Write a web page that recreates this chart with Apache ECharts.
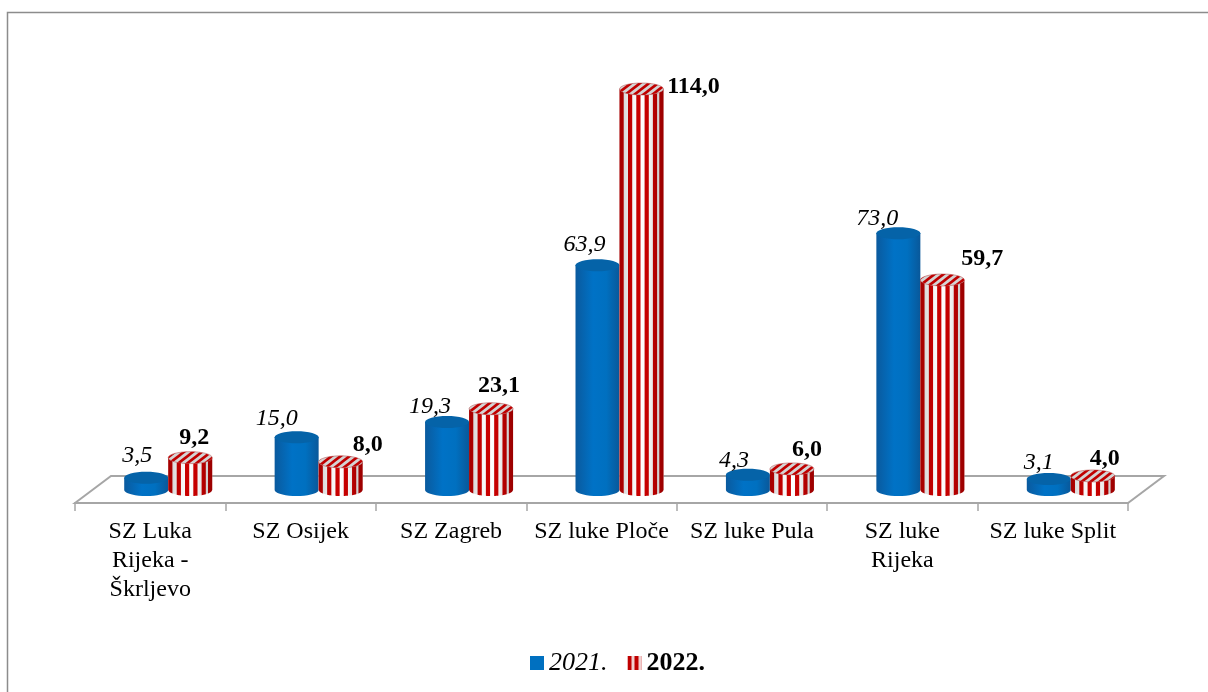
<!DOCTYPE html>
<html>
<head>
<meta charset="utf-8">
<style>
html, body { margin: 0; padding: 0; background: #fff; }
#main { width: 1208px; height: 692px; }
</style>
<script src="https://cdn.jsdelivr.net/npm/echarts@6/dist/echarts.min.js"></script>
</head>
<body>
<div id="main"></div>
<script>
var categories = ['SZ Luka\nRijeka -\nŠkrljevo', 'SZ Osijek', 'SZ Zagreb', 'SZ luke Ploče', 'SZ luke Pula', 'SZ luke\nRijeka', 'SZ luke Split'];
var values2021 = [3.5, 15.0, 19.3, 63.9, 4.3, 73.0, 3.1];
var values2022 = [9.2, 8.0, 23.1, 114.0, 6.0, 59.7, 4.0];

// hand placed labels in the original, offset from the top of each cylinder
var labelShift2021 = [[-9, -22], [-20, -19], [-17, -15], [-13, -21], [-14, -14], [-21, -15], [-10, -16]];
var labelShift2022 = [[4, -20], [27, -17], [8, -23], [52, -2], [15, -19], [40, -21], [12, -17]];

var FONT = '"Liberation Serif", "Times New Roman", serif';
var RX = 22, RY = 6, DEPTH_SHIFT = 18;
var STRIPE_X = [-22, -13.5, -5.2, 3.1, 11.4, 17.8];
var STRIPE_W = 4.2;

var myChart = echarts.init(document.getElementById('main'));

function stripeTile(w, h, diagonal) {
    var c = document.createElement('canvas');
    c.width = w;
    c.height = h;
    var ctx = c.getContext('2d');
    ctx.fillStyle = diagonal ? '#d4d4d4' : '#f0d0d0';
    ctx.fillRect(0, 0, w, h);
    ctx.fillStyle = ctx.strokeStyle = '#c00000';
    if (diagonal) {
        ctx.lineWidth = 2.6;
        ctx.beginPath();
        ctx.moveTo(-w, 2 * h); ctx.lineTo(2 * w, -h);
        ctx.moveTo(-w, h); ctx.lineTo(w, -h);
        ctx.moveTo(0, 2 * h); ctx.lineTo(2 * w, 0);
        ctx.stroke();
    } else {
        ctx.fillRect(0, 0, 4, h);
    }
    return c;
}
var topPattern = { image: stripeTile(9, 7, true), repeat: 'repeat' };
var legendPattern = { image: stripeTile(7, 7, false), repeat: 'repeat' };

function fmt(v) {
    return v.toFixed(1).replace('.', ',');
}

// outline of the side of a cylinder
function bodyPoints(cx, yTop, yBase) {
    var pts = [[cx - RX, yTop]];
    for (var a = -90; a <= 90; a += 10) {
        var r = a * Math.PI / 180;
        pts.push([cx + RX * Math.sin(r), yBase + RY * Math.cos(r)]);
    }
    pts.push([cx + RX, yTop]);
    return pts;
}

// one vertical stripe, following the curve of the rim at both ends
function stripePoints(cx, yTop, yBase, x1, x2) {
    var up = [], down = [];
    for (var x = x1; x <= x2 + 0.01; x += (x2 - x1) / 4) {
        var dy = RY * Math.sqrt(Math.max(0, 1 - x * x / (RX * RX)));
        up.push([cx + x, yTop + dy]);
        down.unshift([cx + x, yBase + dy]);
    }
    return up.concat(down);
}

function textEl(x, y, str, italic, bold, size) {
    return {
        type: 'text',
        style: {
            x: x, y: y, text: str, align: 'center', verticalAlign: 'middle',
            fill: '#000', font: (italic ? 'italic ' : '') + (bold ? 'bold ' : '') + size + 'px ' + FONT
        }
    };
}

function render2021(params, api) {
    var i = api.value(0), v = api.value(1);
    var top = api.coord([i, v]);
    var yBase = api.coord([i, 0])[1];
    var cx = top[0] + DEPTH_SHIFT - RX;
    var shift = labelShift2021[i];
    return {
        type: 'group',
        children: [
            {
                type: 'polygon',
                shape: { points: bodyPoints(cx, top[1], yBase) },
                style: {
                    fill: {
                        type: 'linear', x: 0, y: 0, x2: 1, y2: 0,
                        colorStops: [
                            { offset: 0, color: '#0a5a9e' },
                            { offset: 0.4, color: '#0072c6' },
                            { offset: 0.7, color: '#0070c0' },
                            { offset: 1, color: '#09589a' }
                        ]
                    }
                }
            },
            {
                type: 'ellipse',
                shape: { cx: cx, cy: top[1], rx: RX, ry: RY },
                style: { fill: '#0563a8' }
            },
            textEl(cx + shift[0], top[1] + shift[1], fmt(v), true, false, 24)
        ]
    };
}

function render2022(params, api) {
    var i = api.value(0), v = api.value(1);
    var top = api.coord([i, v]);
    var yBase = api.coord([i, 0])[1];
    var cx = top[0] + DEPTH_SHIFT + RX;
    var shift = labelShift2022[i];
    var children = [{
        type: 'polygon',
        shape: { points: bodyPoints(cx, top[1], yBase) },
        style: { fill: '#ffffff' }
    }];
    STRIPE_X.forEach(function (x) {
        children.push({
            type: 'polygon',
            shape: { points: stripePoints(cx, top[1], yBase, x, x + STRIPE_W) },
            style: { fill: '#cc0000' }
        });
    });
    children.push({
        type: 'polygon',
        shape: { points: bodyPoints(cx, top[1], yBase) },
        style: {
            fill: {
                type: 'linear', x: 0, y: 0, x2: 1, y2: 0,
                colorStops: [
                    { offset: 0, color: 'rgba(0,0,0,0.2)' },
                    { offset: 0.3, color: 'rgba(0,0,0,0.04)' },
                    { offset: 0.5, color: 'rgba(0,0,0,0)' },
                    { offset: 0.7, color: 'rgba(0,0,0,0.06)' },
                    { offset: 1, color: 'rgba(0,0,0,0.25)' }
                ]
            }
        }
    });
    children.push({
        type: 'ellipse',
        shape: { cx: cx, cy: top[1], rx: RX, ry: RY },
        style: { fill: topPattern, stroke: '#b04040', lineWidth: 0.5 }
    });
    children.push(textEl(cx + shift[0], top[1] + shift[1], fmt(v), false, true, 24));
    return { type: 'group', children: children };
}

// the floor of the 3D plot, hung off the grid rectangle
function renderFloor(params, api) {
    var cs = params.coordSys;
    var yFront = cs.y + cs.height + 13;
    var yBack = yFront - 27;
    return {
        type: 'polygon',
        shape: {
            points: [
                [cs.x, yFront], [cs.x + 36, yBack],
                [cs.x + cs.width + 36, yBack], [cs.x + cs.width, yFront]
            ]
        },
        style: { fill: 'none', stroke: '#a6a6a6', lineWidth: 2 }
    };
}

var option = {
    animation: false,
    backgroundColor: '#fff',
    textStyle: { fontFamily: FONT },
    graphic: [{
        type: 'rect',
        silent: true,
        shape: { x: 7.5, y: 12.5, width: 1400, height: 900 },
        style: { fill: 'none', stroke: '#8c8c8c', lineWidth: 1.5 }
    }],
    legend: {
        left: 525,
        top: 645,
        itemWidth: 14,
        itemHeight: 14,
        itemGap: 20,
        selectedMode: false,
        data: [
            {
                name: '2021.',
                icon: 'rect',
                itemStyle: { color: '#0070c0' },
                textStyle: { fontFamily: FONT, fontSize: 26, fontStyle: 'italic', color: '#000' }
            },
            {
                name: '2022.',
                icon: 'rect',
                itemStyle: { color: legendPattern },
                textStyle: { fontFamily: FONT, fontSize: 26, fontWeight: 'bold', color: '#000' }
            }
        ]
    },
    grid: { left: 75, right: 80, top: 89, height: 401 },
    xAxis: {
        type: 'category',
        data: categories,
        offset: 13,
        axisLine: { show: true, onZero: false, lineStyle: { color: '#a6a6a6', width: 2 } },
        axisTick: { show: true, alignWithLabel: false, length: 8, lineStyle: { color: '#a6a6a6', width: 1.5 } },
        axisLabel: {
            interval: 0,
            margin: 14,
            fontFamily: FONT,
            fontSize: 24,
            lineHeight: 29,
            color: '#000'
        }
    },
    yAxis: { type: 'value', min: 0, max: 114, show: false },
    series: [
        { name: 'floor', type: 'custom', renderItem: renderFloor, data: [[0, 0]], silent: true, z: 1 },
        { name: '2021.', type: 'custom', renderItem: render2021, encode: { x: 0, y: 1 }, itemStyle: { color: '#0070c0' }, z: 2,
          data: values2021.map(function (v, i) { return [i, v]; }) },
        { name: '2022.', type: 'custom', renderItem: render2022, encode: { x: 0, y: 1 }, itemStyle: { color: '#c00000' }, z: 3,
          data: values2022.map(function (v, i) { return [i, v]; }) }
    ]
};

myChart.setOption(option);
</script>
</body>
</html>
